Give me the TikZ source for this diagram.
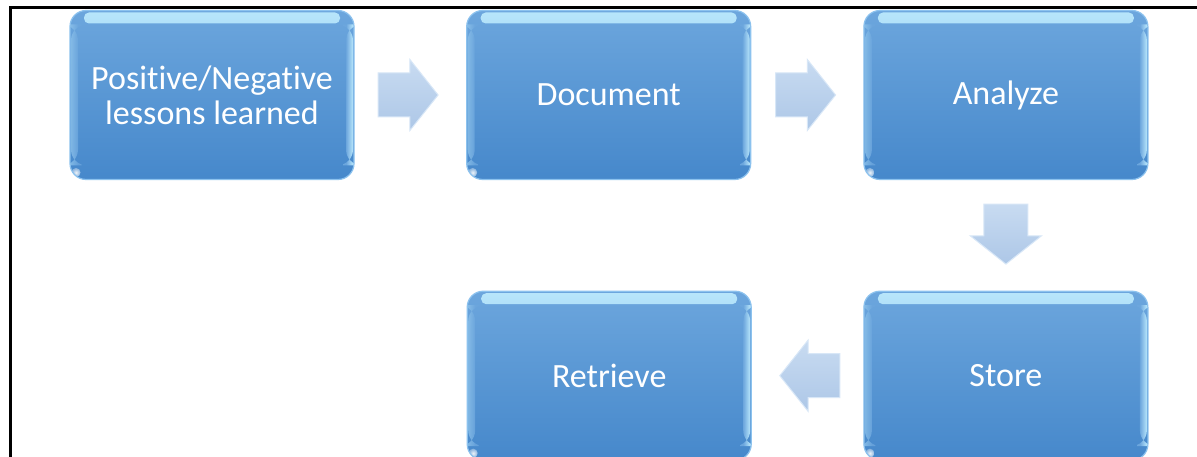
\documentclass[tikz,border=0pt]{standalone}
\usepackage{fontspec}
\setmainfont{Carlito}[Ligatures=NoCommon]
\usetikzlibrary{positioning,shapes.arrows,calc}
\definecolor{boxtop}{HTML}{6CA6DD}
\definecolor{boxbot}{HTML}{4688CB}
\definecolor{boxrim}{HTML}{8CC2EE}
\definecolor{shine}{HTML}{B8E6FB}
\definecolor{arrtop}{HTML}{C8DBF1}
\definecolor{arrbot}{HTML}{ADC7E7}
\definecolor{arrrim}{HTML}{D8E7F7}
\tikzset{
  stepbox/.style  = {rectangle, rounded corners=16pt, minimum width=284pt, minimum height=169pt,
                     top color=boxtop, bottom color=boxbot, draw=boxrim, line width=1.2pt,
                     text=white, align=center, font=\fontsize{34}{35}\selectfont, inner sep=0pt,
                     path picture={
                       % glossy rim: top band, side bands, corner glint
                       \shade[top color=shine, bottom color=boxtop, rounded corners=5pt]
                         ([xshift=14pt,yshift=-2pt]path picture bounding box.north west) rectangle
                         ([xshift=-14pt,yshift=-13pt]path picture bounding box.north east);
                       \shade[left color=boxtop, right color=shine]
                         ([xshift=-8pt,yshift=-14pt]path picture bounding box.north east) rectangle
                         ([xshift=-1pt,yshift=14pt]path picture bounding box.south east);
                       \shade[left color=boxtop!60!shine, right color=boxtop, opacity=0.8]
                         ([xshift=1pt,yshift=-14pt]path picture bounding box.north west) rectangle
                         ([xshift=8pt,yshift=14pt]path picture bounding box.south west);
                       \shade[inner color=white, outer color=boxbot!60!white, opacity=0.9]
                         ([xshift=6pt,yshift=7pt]path picture bounding box.south west) circle[radius=4.5pt];
                     }},
  flowarrow/.style= {single arrow, single arrow head extend=13.5pt, single arrow tip angle=103,
                     minimum height=60pt, inner xsep=0pt, inner ysep=21.5pt,
                     top color=arrtop, bottom color=arrbot, draw=arrrim, line width=1pt},
  downarrow/.style= {flowarrow, shape border rotate=270, inner xsep=21.5pt, inner ysep=0pt},
}
\begin{document}
\begin{tikzpicture}[x=1pt, y=-1pt]
\clip (0,0) rectangle (1197,457);
\fill[white] (0,0) rectangle (1197,457);
% frame
\draw[line width=3pt] (10,470) -- (10,8) -- (1210,8);
% steps
\node[stepbox] (lessons) at (212,95) {Positive/Negative\\lessons learned};
\node[stepbox, right=111.5pt of lessons] (doc) {Document};
\node[stepbox, right=112pt of doc] (analyze) {Analyze};
\node[stepbox, below=110.5pt of analyze] (store) {Store};
\node[stepbox, left=111.5pt of store] (retrieve) {Retrieve};
% block arrows (center anchor sits toward the tail)
\node[flowarrow] (a1) at ($(lessons.east)!0.5!(doc.west)+(-11,0)$) {};
\node[flowarrow] (a2) at ($(doc.east)!0.5!(analyze.west)+(-10.5,0)$) {};
\node[downarrow] (a3) at ($(analyze.south)!0.5!(store.north)+(0,-10)$) {};
\node[flowarrow, shape border rotate=180] (a4) at ($(store.west)!0.5!(retrieve.east)+(11,0)$) {};
\end{tikzpicture}
\end{document}
